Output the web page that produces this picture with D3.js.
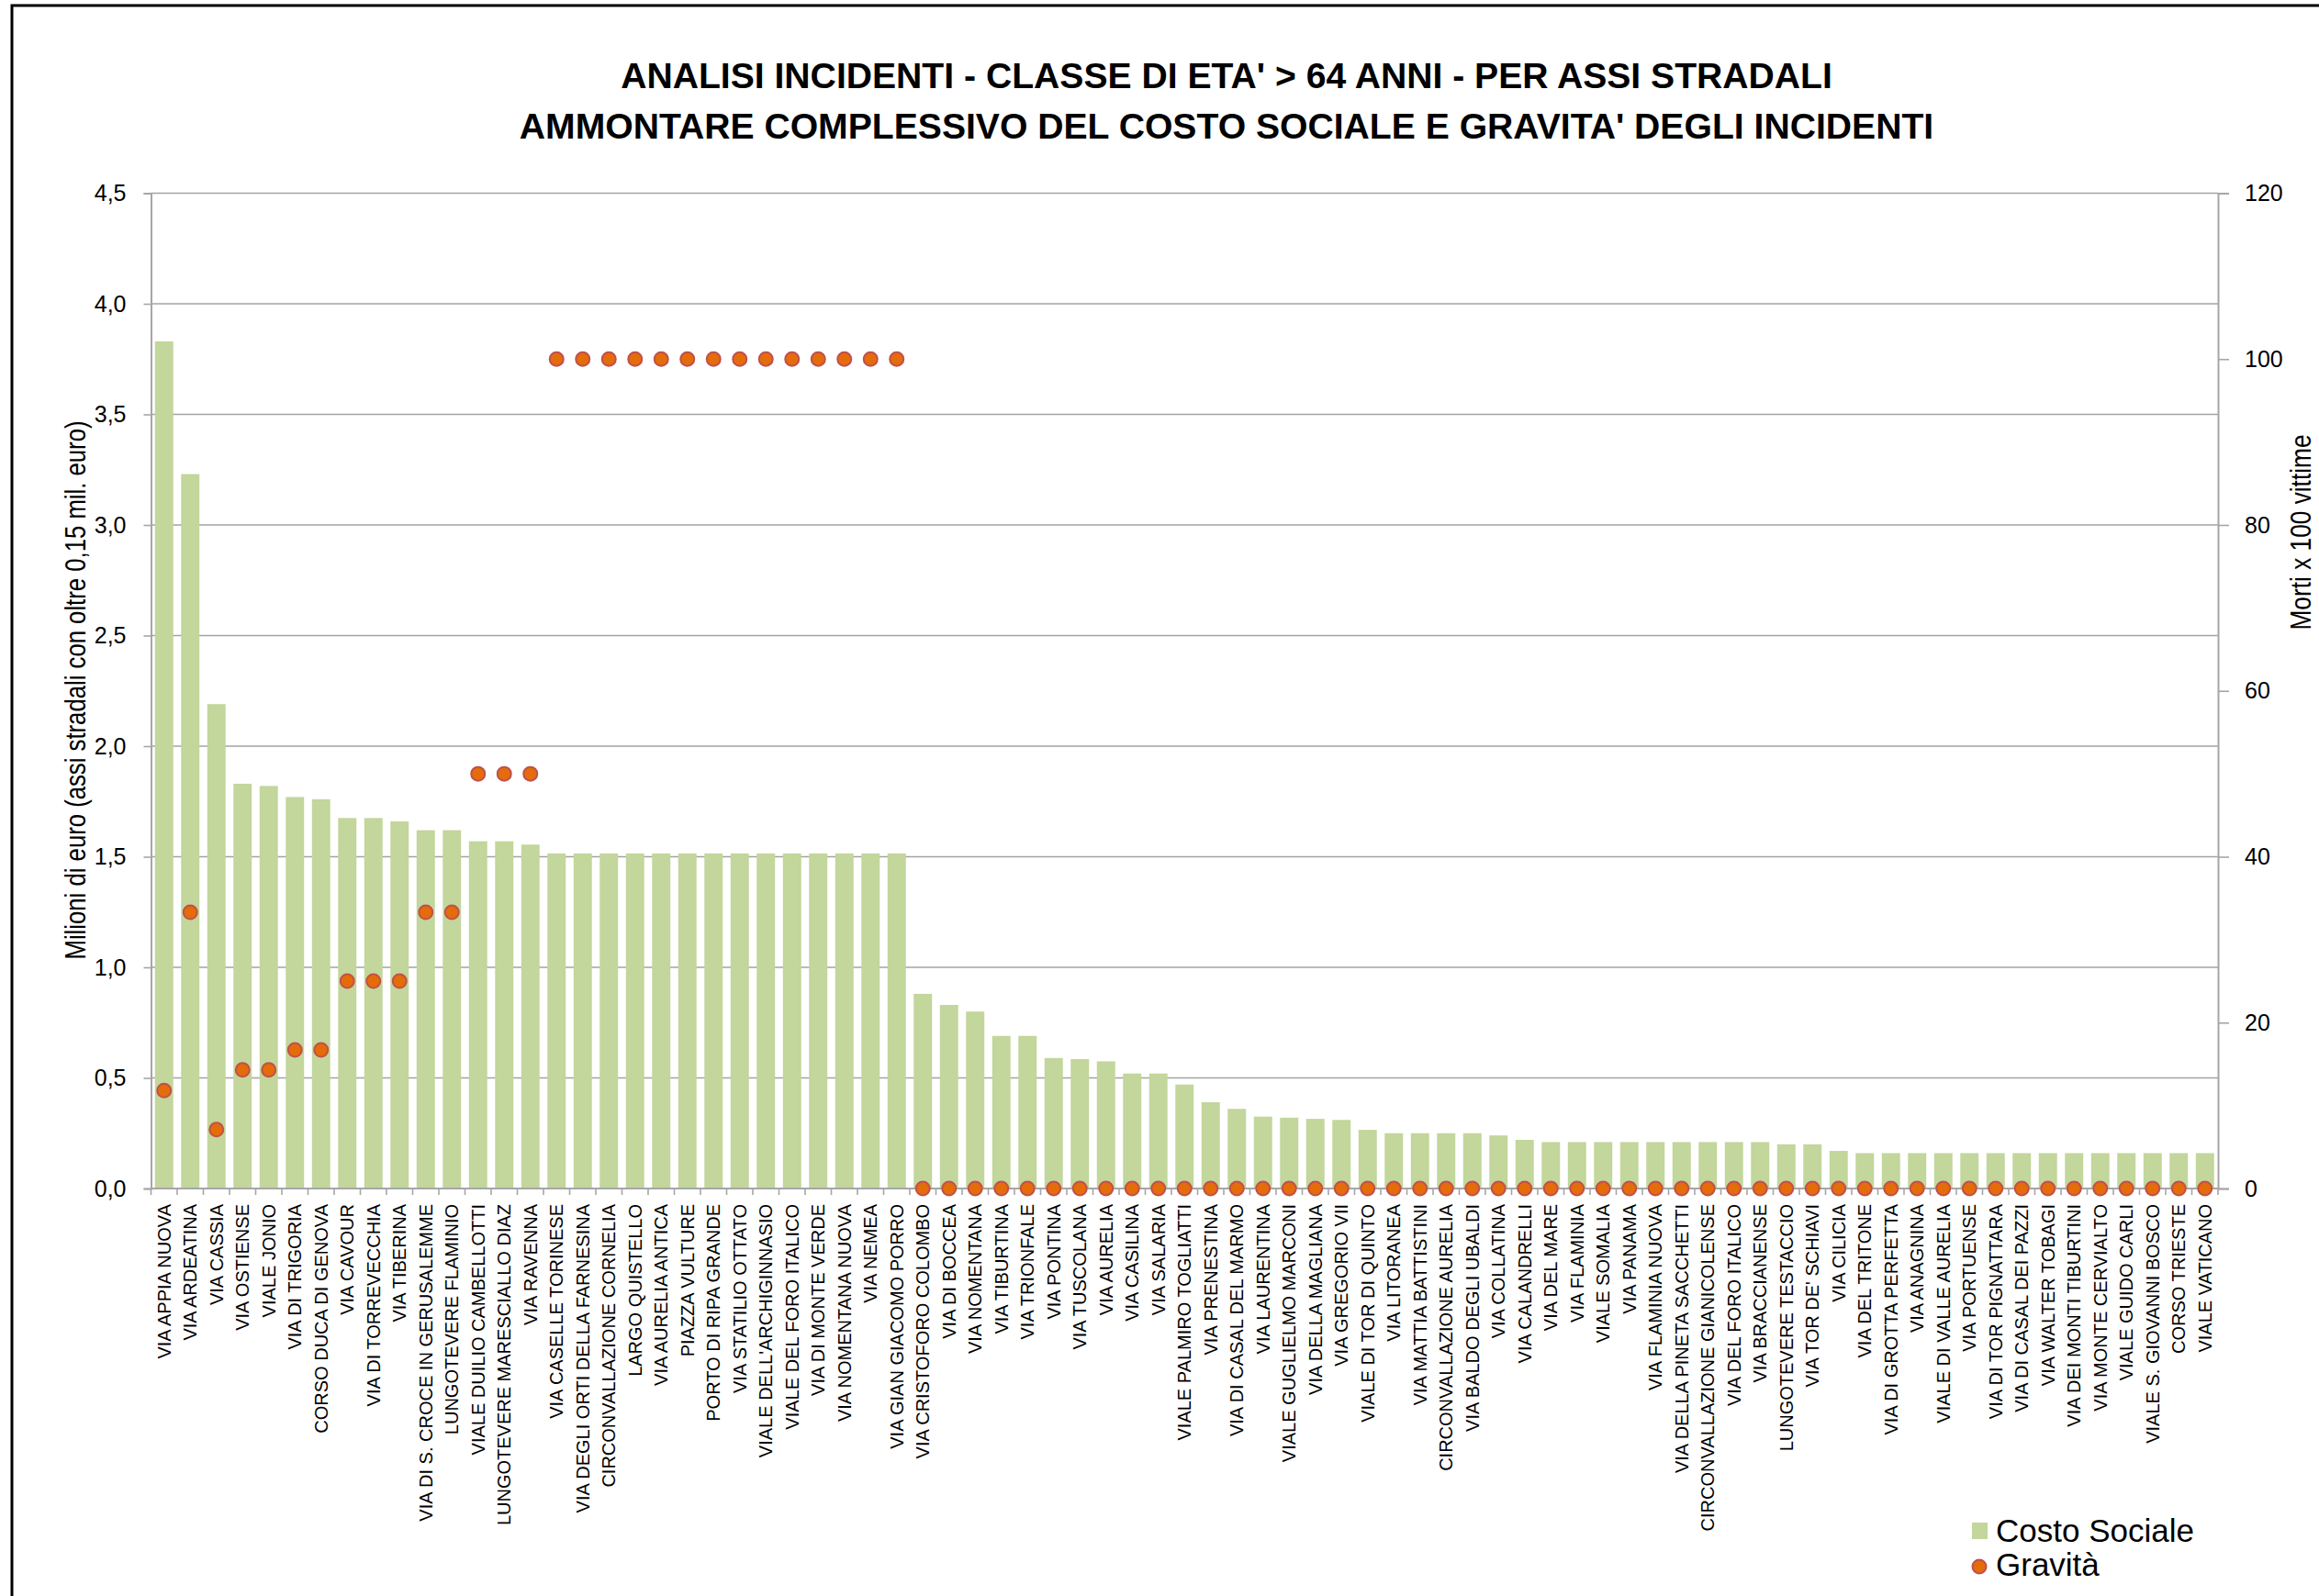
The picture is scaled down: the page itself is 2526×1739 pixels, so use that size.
<!DOCTYPE html>
<html>
<head>
<meta charset="utf-8">
<script src="https://cdn.jsdelivr.net/npm/d3@7"></script>
<style>
  html, body { margin: 0; padding: 0; background: #fff; }
  svg { display: block; }
</style>
</head>
<body>
<svg id="chart" width="2526" height="1739"></svg>
<script>
// Road axes ranked by social cost (age class > 64)
const categories = [
  "VIA APPIA NUOVA", "VIA ARDEATINA", "VIA CASSIA", "VIA OSTIENSE", "VIALE JONIO",
  "VIA DI TRIGORIA", "CORSO DUCA DI GENOVA", "VIA CAVOUR", "VIA DI TORREVECCHIA", "VIA TIBERINA",
  "VIA DI S. CROCE IN GERUSALEMME", "LUNGOTEVERE FLAMINIO", "VIALE DUILIO CAMBELLOTTI",
  "LUNGOTEVERE MARESCIALLO DIAZ", "VIA RAVENNA", "VIA CASELLE TORINESE",
  "VIA DEGLI ORTI DELLA FARNESINA", "CIRCONVALLAZIONE CORNELIA", "LARGO QUISTELLO",
  "VIA AURELIA ANTICA", "PIAZZA VULTURE", "PORTO DI RIPA GRANDE", "VIA STATILIO OTTATO",
  "VIALE DELL'ARCHIGINNASIO", "VIALE DEL FORO ITALICO", "VIA DI MONTE VERDE",
  "VIA NOMENTANA NUOVA", "VIA NEMEA", "VIA GIAN GIACOMO PORRO", "VIA CRISTOFORO COLOMBO",
  "VIA DI BOCCEA", "VIA NOMENTANA", "VIA TIBURTINA", "VIA TRIONFALE", "VIA PONTINA",
  "VIA TUSCOLANA", "VIA AURELIA", "VIA CASILINA", "VIA SALARIA", "VIALE PALMIRO TOGLIATTI",
  "VIA PRENESTINA", "VIA DI CASAL DEL MARMO", "VIA LAURENTINA", "VIALE GUGLIELMO MARCONI",
  "VIA DELLA MAGLIANA", "VIA GREGORIO VII", "VIALE DI TOR DI QUINTO", "VIA LITORANEA",
  "VIA MATTIA BATTISTINI", "CIRCONVALLAZIONE AURELIA", "VIA BALDO DEGLI UBALDI",
  "VIA COLLATINA", "VIA CALANDRELLI", "VIA DEL MARE", "VIA FLAMINIA", "VIALE SOMALIA",
  "VIA PANAMA", "VIA FLAMINIA NUOVA", "VIA DELLA PINETA SACCHETTI",
  "CIRCONVALLAZIONE GIANICOLENSE", "VIA DEL FORO ITALICO", "VIA BRACCIANENSE",
  "LUNGOTEVERE TESTACCIO", "VIA TOR DE' SCHIAVI", "VIA CILICIA", "VIA DEL TRITONE",
  "VIA DI GROTTA PERFETTA", "VIA ANAGNINA", "VIALE DI VALLE AURELIA", "VIA PORTUENSE",
  "VIA DI TOR PIGNATTARA", "VIA DI CASAL DEI PAZZI", "VIA WALTER TOBAGI",
  "VIA DEI MONTI TIBURTINI", "VIA MONTE CERVIALTO", "VIALE GUIDO CARLI",
  "VIALE S. GIOVANNI BOSCO", "CORSO TRIESTE", "VIALE VATICANO"
];

// Social cost, millions of euro
const costoSociale = [
  3.83, 3.23, 2.19, 1.83, 1.82, 1.77, 1.76, 1.675, 1.675, 1.66,
  1.62, 1.62, 1.57, 1.57, 1.555, 1.515, 1.515, 1.515, 1.515, 1.515,
  1.515, 1.515, 1.515, 1.515, 1.515, 1.515, 1.515, 1.515, 1.515, 0.88,
  0.83, 0.80, 0.69, 0.69, 0.59, 0.585, 0.575, 0.52, 0.52, 0.47,
  0.39, 0.36, 0.325, 0.32, 0.315, 0.31, 0.265, 0.25, 0.25, 0.25,
  0.25, 0.24, 0.22, 0.21, 0.21, 0.21, 0.21, 0.21, 0.21, 0.21,
  0.21, 0.21, 0.20, 0.20, 0.17, 0.16, 0.16, 0.16, 0.16, 0.16,
  0.16, 0.16, 0.16, 0.16, 0.16, 0.16, 0.16, 0.16, 0.16
];

// Severity: deaths per 100 victims
const gravita = [
  11.8, 33.3, 7.1, 14.3, 14.3, 16.7, 16.7, 25, 25, 25,
  33.3, 33.3, 50, 50, 50, 100, 100, 100, 100, 100,
  100, 100, 100, 100, 100, 100, 100, 100, 100, 0,
  0, 0, 0, 0, 0, 0, 0, 0, 0, 0,
  0, 0, 0, 0, 0, 0, 0, 0, 0, 0,
  0, 0, 0, 0, 0, 0, 0, 0, 0, 0,
  0, 0, 0, 0, 0, 0, 0, 0, 0, 0,
  0, 0, 0, 0, 0, 0, 0, 0, 0
];

const costTicks = [0, 0.5, 1.0, 1.5, 2.0, 2.5, 3.0, 3.5, 4.0, 4.5];
const gravTicks = [0, 20, 40, 60, 80, 100, 120];

const titleLines = [
  "ANALISI INCIDENTI - CLASSE DI ETA' > 64 ANNI - PER ASSI STRADALI",
  "AMMONTARE COMPLESSIVO DEL COSTO SOCIALE E GRAVITA' DEGLI INCIDENTI"
];
const leftAxisTitle = "Milioni di euro (assi stradali con oltre 0,15 mil. euro)";
const rightAxisTitle = "Morti x 100 vittime";
const legendLabels = ["Costo Sociale", "Gravità"];

const BAR = "#C3D69B";
const DOT = "#E46C0A";
const DOT_EDGE = "#C0504D";
const GRID = "#A3A3A3";
const AXIS = "#A6A6A6";
const SANS = "'Liberation Sans', Arial, sans-serif";

const svg = d3.select("#chart");

// outer frame of the chart
svg.append("rect")
  .attr("x", 13).attr("y", 6)
  .attr("width", 2560).attr("height", 1780)
  .attr("fill", "#fff").attr("stroke", "#000").attr("stroke-width", 3);

const plot = { left: 164.5, right: 2416, top: 210.5, bottom: 1295 };

const x = d3.scaleBand()
  .domain(categories)
  .range([plot.left, plot.right])
  .paddingInner(0.3)
  .paddingOuter(0.15);

const yCost = d3.scaleLinear().domain([0, 4.5]).range([plot.bottom, plot.top]);
const yGrav = d3.scaleLinear().domain([0, 120]).range([plot.bottom, plot.top]);

const fmtComma = d => d3.format(".1f")(d).replace(".", ",");

// horizontal gridlines
svg.append("g").selectAll("line")
  .data(costTicks.filter(d => d > 0))
  .join("line")
  .attr("x1", plot.left).attr("x2", plot.right)
  .attr("y1", d => yCost(d)).attr("y2", d => yCost(d))
  .attr("stroke", GRID).attr("stroke-width", 1.6);

// social cost bars
svg.append("g").selectAll("rect")
  .data(categories)
  .join("rect")
  .attr("x", d => x(d))
  .attr("width", x.bandwidth())
  .attr("y", (d, i) => yCost(costoSociale[i]))
  .attr("height", (d, i) => yCost(0) - yCost(costoSociale[i]))
  .attr("fill", BAR);

// left axis
const leftAxis = svg.append("g")
  .attr("transform", `translate(${plot.left},0)`)
  .call(d3.axisLeft(yCost).tickValues(costTicks).tickFormat(fmtComma).tickSize(8).tickPadding(19));
leftAxis.select(".domain").attr("stroke", AXIS).attr("stroke-width", 2);
leftAxis.selectAll(".tick line").attr("stroke", AXIS).attr("stroke-width", 1.6);
leftAxis.selectAll(".tick text")
  .attr("font-family", SANS).attr("font-size", 25).attr("fill", "#000");

// right axis
const rightAxis = svg.append("g")
  .attr("transform", `translate(${plot.right},0)`)
  .call(d3.axisRight(yGrav).tickValues(gravTicks).tickSize(12).tickPadding(17));
rightAxis.select(".domain").attr("stroke", AXIS).attr("stroke-width", 2);
rightAxis.selectAll(".tick line").attr("stroke", AXIS).attr("stroke-width", 1.6);
rightAxis.selectAll(".tick text")
  .attr("font-family", SANS).attr("font-size", 25).attr("fill", "#000");

// category axis
const bottomAxis = svg.append("g")
  .attr("transform", `translate(0,${plot.bottom})`)
  .call(d3.axisBottom(x).tickSize(0).tickPadding(0));
bottomAxis.select(".domain").remove();
bottomAxis.append("line")
  .attr("x1", plot.left).attr("x2", plot.right)
  .attr("stroke", AXIS).attr("stroke-width", 2);
// tick marks between categories
const step = x.step();
const edges = categories.map(d => x(d) - step * 0.15).concat([plot.right]);
bottomAxis.selectAll(".edge")
  .data(edges)
  .join("line")
  .attr("class", "edge")
  .attr("x1", d => d).attr("x2", d => d)
  .attr("y1", 0).attr("y2", 7)
  .attr("stroke", AXIS).attr("stroke-width", 1.6);
bottomAxis.selectAll(".tick text")
  .attr("font-family", SANS).attr("font-size", 20).attr("fill", "#000")
  .attr("text-anchor", "end")
  .attr("dy", null).attr("y", null)
  .attr("transform", "translate(7,17) rotate(-90)");

// severity markers
svg.append("g").selectAll("circle")
  .data(categories)
  .join("circle")
  .attr("cx", d => x(d) + x.bandwidth() / 2)
  .attr("cy", (d, i) => yGrav(gravita[i]))
  .attr("r", 7.5)
  .attr("fill", DOT)
  .attr("stroke", DOT_EDGE).attr("stroke-width", 2);

// axis titles
svg.append("text")
  .attr("transform", "translate(93,752) rotate(-90)")
  .attr("text-anchor", "middle")
  .attr("font-family", SANS).attr("font-size", 31)
  .attr("textLength", 587).attr("lengthAdjust", "spacingAndGlyphs")
  .attr("fill", "#000")
  .text(leftAxisTitle);

svg.append("text")
  .attr("transform", "translate(2517,580) rotate(-90)")
  .attr("text-anchor", "middle")
  .attr("font-family", SANS).attr("font-size", 31)
  .attr("textLength", 213).attr("lengthAdjust", "spacingAndGlyphs")
  .attr("fill", "#000")
  .text(rightAxisTitle);

// title, sized so each line spans its width
const titleWidths = [1310, 1553];
const titleBase = [96, 151];
const tg = svg.append("g");
const probe = titleLines.map((t, i) => tg.append("text")
  .attr("x", 1336).attr("y", titleBase[i])
  .attr("text-anchor", "middle")
  .attr("font-family", SANS).attr("font-weight", "bold")
  .attr("font-size", 40).attr("fill", "#000")
  .text(t));
const sizes = probe.map((p, i) => 40 * titleWidths[i] / p.node().getComputedTextLength());
const titleSize = d3.mean(sizes);
probe.forEach(p => p.attr("font-size", titleSize));

// legend
const lg = svg.append("g");
lg.append("rect")
  .attr("x", 2148).attr("y", 1659).attr("width", 17).attr("height", 18)
  .attr("fill", BAR);
lg.append("text")
  .attr("x", 2174).attr("y", 1680)
  .attr("font-family", SANS).attr("font-size", 35).attr("fill", "#000")
  .text(legendLabels[0]);
lg.append("circle")
  .attr("cx", 2156).attr("cy", 1707).attr("r", 7.5)
  .attr("fill", DOT).attr("stroke", DOT_EDGE).attr("stroke-width", 2);
lg.append("text")
  .attr("x", 2174).attr("y", 1717)
  .attr("font-family", SANS).attr("font-size", 35).attr("fill", "#000")
  .text(legendLabels[1]);
</script>
</body>
</html>
